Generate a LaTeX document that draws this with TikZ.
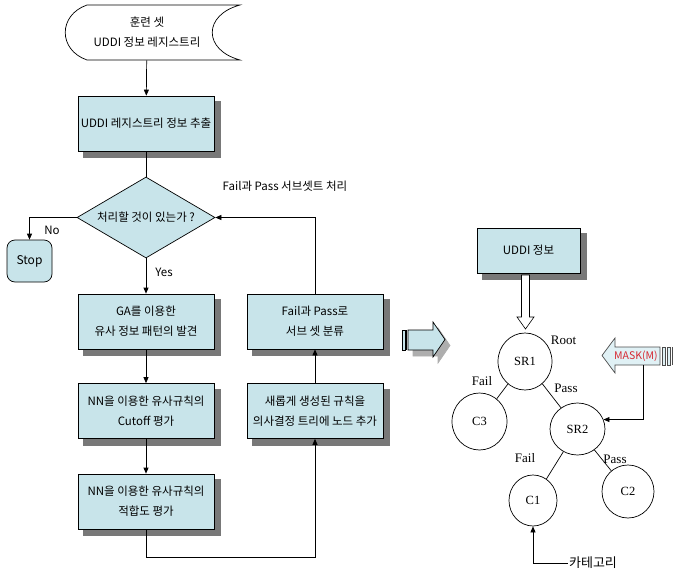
\documentclass[tikz,border=0pt]{standalone}
\usepackage{fontspec}
\setmainfont{Liberation Serif}
\newfontfamily\kr{Noto Sans CJK KR}
\usetikzlibrary{calc}
\usetikzlibrary{arrows.meta}
\usetikzlibrary{shapes.geometric}
\usetikzlibrary{backgrounds}
\definecolor{boxblue}{RGB}{200,228,234}
\definecolor{arrowblue}{RGB}{224,241,245}
\definecolor{shadowgray}{RGB}{120,120,120}
\definecolor{maskred}{RGB}{214,40,50}

\begin{document}
\begin{tikzpicture}[x=1pt,y=-1pt,line width=0.7pt,
  procbox/.style={draw, fill=boxblue, minimum width=136pt, minimum height=55pt, inner sep=2pt, align=center,
    font=\kr\fontsize{11.5}{20}\selectfont},
  decbox/.style={diamond, draw, fill=boxblue, aspect=1.7, inner sep=0pt, minimum width=138pt, minimum height=81pt,
    font=\kr\fontsize{11.5}{13}\selectfont},
  stopbox/.style={draw, fill=boxblue, rounded corners=8pt, minimum width=45pt, minimum height=42pt,
    font=\kr\fontsize{12}{14}\selectfont},
  plaintext/.style={inner sep=1pt, align=center, font=\kr\fontsize{11.5}{20}\selectfont},
  treenode/.style={ellipse, draw, inner sep=0pt, font=\fontsize{12.5}{14}\selectfont},
  edgelabel/.style={inner sep=1pt, font=\fontsize{13}{15}\selectfont},
  boxshadow/.style={fill=shadowgray, draw=shadowgray, line width=0.5pt},
  arr/.style={-{Triangle[length=6pt,width=5pt]}}]
\useasboundingbox (0,0) rectangle (673,576);

\coordinate (L) at (146,557);
\coordinate (MK) at (643,365);

  \draw (87,5) -- (240,5) .. controls (203,15) and (203,50) .. (240,60) -- (87,60) .. controls (58,50) and (58,15) .. (87,5);
  \node[plaintext, minimum height=55pt] (T) at (147,32.5) {훈련 셋\\UDDI 정보 레지스트리};

  \node[procbox] (B1) at (146,123.5) {UDDI 레지스트리 정보 추출};
  \node[decbox] (D) at (146,217.5) {처리할 것이 있는가 ?};
  \node[stopbox] (S) at (29.5,261) {Stop};
  \node[procbox] (B2) at (146,321.5) {GA를 이용한\\유사 정보 패턴의 발견};
  \node[procbox] (B3) at (146,411) {NN을 이용한 유사규칙의\\Cutoff 평가};
  \node[procbox] (B4) at (146,501.5) {NN을 이용한 유사규칙의\\적합도 평가};
  \node[procbox] (B5) at (315,411) {새롭게 생성된 규칙을\\의사결정 트리에 노드 추가};
  \node[procbox] (B6) at (315,321.5) {Fail과 Pass로\\서브 셋 분류};

  \node[plaintext] (N) at (52,230) {No};
  \node[plaintext] (Y) at (164,272) {Yes};
  \node[plaintext] (FP) at (285,186) {Fail과 Pass 서브셋트 처리};

   \draw[arr] (T) -- (B1);
   \draw (B1) -- (D);
   \draw[arr] (D.west) -| (S.north);
   \draw[arr] (D) -- (B2);
   \draw[arr] (B2) -- (B3);
   \draw[arr] (B3) -- (B4);
   \draw[arr] (B4) -- (L) -| (B5);
   \draw[arr] (B5) -- (B6);
   \draw[arr] (B6.north) |- (D.east);

  \draw[shadowgray!60, fill=shadowgray!60]
    (413,336) -- (438,336) -- (438,328) -- (450,345.5) -- (438,363) -- (438,356) -- (413,356) -- cycle;
  \draw[fill=boxblue]
    (408,330) -- (433,330) -- (433,322) -- (445,339.5) -- (433,357) -- (433,350) -- (408,350) -- cycle;
  \draw[fill=boxblue] (402,330) rectangle (405,350);
  \draw (406.5,330) -- (406.5,350);

  \node[procbox, minimum width=103pt, minimum height=45pt] (U) at (528.5,250.5) {UDDI 정보};
  \draw[fill=white, line width=0.6pt] (521.5,275) -- (529.5,275) -- (529.5,317) -- (534,317) -- (525.5,329)
    -- (517,317) -- (521.5,317) -- cycle;

  \begin{scope}[on background layer]
  \foreach \b in {B1,B2,B3,B4,B5,B6,U}
    \draw[boxshadow] ($(\b.north west)+(6,6)$) rectangle ($(\b.south east)+(6,6)$);
  \end{scope}

  \node[treenode, minimum width=54pt, minimum height=57pt] (R1) at (525,361.5) {SR1};
  \node[treenode, minimum width=55pt, minimum height=57pt] (C3) at (479.5,421.5) {C3};
  \node[treenode, minimum width=55pt, minimum height=52pt] (R2) at (577.5,429) {SR2};
  \node[treenode, minimum width=48pt, minimum height=51pt] (C1) at (533,500.5) {C1};
  \node[treenode, minimum width=52pt, minimum height=53pt] (C2) at (628,491.5) {C2};

  \node[edgelabel] (RT) at (563.5,340) {Root};
  \node[edgelabel] (F1) at (482,381) {Fail};
  \node[edgelabel] (P1) at (566,388) {Pass};
  \node[edgelabel] (F2) at (525,458) {Fail};
  \node[edgelabel] (P2) at (615,459) {Pass};

   \draw (R1) -- (C3);
   \draw (R1) -- (R2);
   \draw (R2) -- (C1);
   \draw (R2) -- (C2);

  \draw[fill=arrowblue, draw=black!70] (602,355.5) -- (615,338) -- (615,347) -- (660,347) -- (660,365)
    -- (615,365) -- (615,373) -- cycle;
  \draw[fill=arrowblue, draw=black!70] (662,347) rectangle (665,365);
  \draw[fill=arrowblue, draw=black!70] (667,347) rectangle (670,365);
  \draw[draw=black!70] (672,347) -- (672,365);
  \node[plaintext, text=maskred, font=\kr\fontsize{10.5}{12}\selectfont] (M) at (636,356) {MASK(M)};
   \draw[arr] (MK) |- (R2.20);

  \node[plaintext, font=\kr\fontsize{13}{15}\selectfont] (K) at (593,563) {카테고리};
   \draw[arr] (K.west) -| (C1);
\end{tikzpicture}
\end{document}
